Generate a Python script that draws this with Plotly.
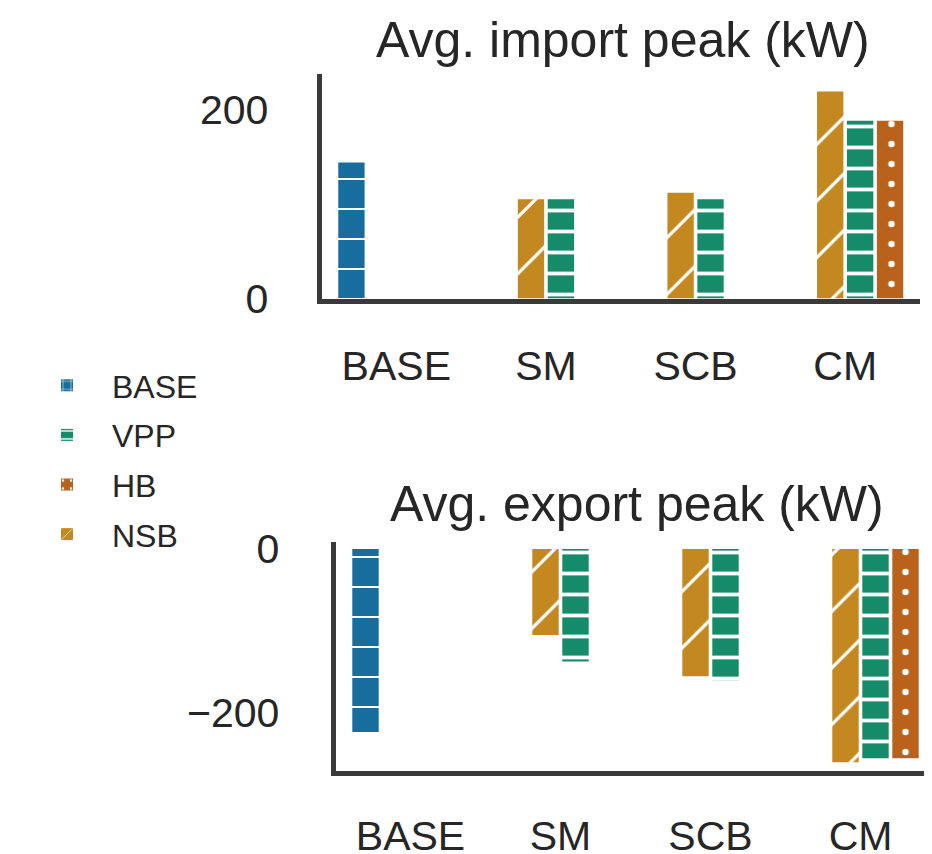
import plotly.graph_objects as go

# The page places the figure 8 px from the top-left corner of the window,
# so the figure is sized to fit the 932x854 window and positions are given
# in window pixels, then converted.
OFF = 8
FW, FH = 932 - OFF, 854 - OFF

categories = ["BASE", "SM", "SCB", "CM"]

import_base = [144, None, None, None]
import_nsb = [None, 105, 112, 219]
import_vpp = [None, 105, 105, 188]
import_hb = [None, None, None, 188]

export_base = [-223, None, None, None]
export_nsb = [None, -105, -155, -260]
export_vpp = [None, -137, -160, -255]
export_hb = [None, None, None, -255]

series_names = ["BASE", "NSB", "VPP", "HB"]
colors = {"BASE": "#176d9c", "NSB": "#c38820", "VPP": "#168b6a", "HB": "#ba611b"}
patterns = {
    "BASE": dict(shape="+", size=30, solidity=0.12),
    "NSB": dict(shape="/", size=40, solidity=0.08),
    "VPP": dict(shape="-", size=21, solidity=0.18),
    "HB": dict(shape=".", size=20, solidity=0.08),
}
legend_rank = {"BASE": 1, "VPP": 2, "HB": 3, "NSB": 4}

import_data = {"BASE": import_base, "NSB": import_nsb, "VPP": import_vpp, "HB": import_hb}
export_data = {"BASE": export_base, "NSB": export_nsb, "VPP": export_vpp, "HB": export_hb}

FONT = "Liberation Sans, Arial, sans-serif"
TXT = "#262626"
LINE = "#3a3a3a"


def px_x(p):
    return (p - OFF) / FW


def px_y(p):
    return 1 - (p - OFF) / FH


fig = go.Figure()

for name in series_names:
    pat = dict(patterns[name])
    pat.update(fgcolor="white", bgcolor=colors[name], fillmode="replace")
    fig.add_trace(go.Bar(
        x=categories, y=import_data[name], name=name,
        marker=dict(color=colors[name], pattern=pat, line=dict(width=0)),
        xaxis="x", yaxis="y", legendgroup=name, legendrank=legend_rank[name],
        showlegend=True,
    ))
    fig.add_trace(go.Bar(
        x=categories, y=export_data[name], name=name,
        marker=dict(color=colors[name], pattern=pat, line=dict(width=0)),
        xaxis="x2", yaxis="y2", legendgroup=name, showlegend=False,
    ))

axis_common = dict(showgrid=False, zeroline=False, showline=True, linecolor=LINE,
                   linewidth=5, ticks="", automargin=False,
                   tickfont=dict(family=FONT, size=41, color=TXT))

top_left, top_right = 321.5, 920
bot_left, bot_right = 335.5, 932

fig.update_layout(
    width=FW, height=FH,
    margin=dict(l=0, r=0, t=0, b=0, autoexpand=False),
    paper_bgcolor="white", plot_bgcolor="white",
    barmode="group", bargap=0.2, bargroupgap=0.12,
    font=dict(family=FONT, color=TXT),
    xaxis=dict(domain=[px_x(top_left), px_x(top_right)], anchor="y", type="category",
               categoryorder="array", categoryarray=categories,
               range=[-0.5, 3.5], ticklabelstandoff=27, **axis_common),
    yaxis=dict(domain=[px_y(298.5), px_y(74)], anchor="x", range=[0, 237.5],
               tickvals=[0, 200], ticktext=["0", "200"], ticklabelstandoff=40,
               **axis_common),
    xaxis2=dict(domain=[px_x(bot_left), min(1.0, px_x(bot_right))], anchor="y2", type="category",
                categoryorder="array", categoryarray=categories,
                range=[-0.5, -0.5 + (bot_right - bot_left) / 150.0], ticklabelstandoff=25,
                **axis_common),
    yaxis2=dict(domain=[px_y(770.5), px_y(542)], anchor="x2", range=[-270, 8.5],
                tickvals=[0, -200], ticktext=["0", "\u2212200"], ticklabelstandoff=43,
                **axis_common),
    legend=dict(x=px_x(22), y=px_y(358), xanchor="left", yanchor="top",
                font=dict(family=FONT, size=32, color=TXT), itemwidth=80,
                tracegroupgap=5, bgcolor="rgba(0,0,0,0)"),
    annotations=[
        dict(text="Avg. import peak (kW)", x=px_x(623), y=px_y(40), xref="paper", yref="paper",
             xanchor="center", yanchor="middle", showarrow=False,
             font=dict(family=FONT, size=50, color=TXT)),
        dict(text="Avg. export peak (kW)", x=px_x(637), y=px_y(504), xref="paper", yref="paper",
             xanchor="center", yanchor="middle", showarrow=False,
             font=dict(family=FONT, size=50, color=TXT)),
    ],
)

fig.write_html("out.html")
